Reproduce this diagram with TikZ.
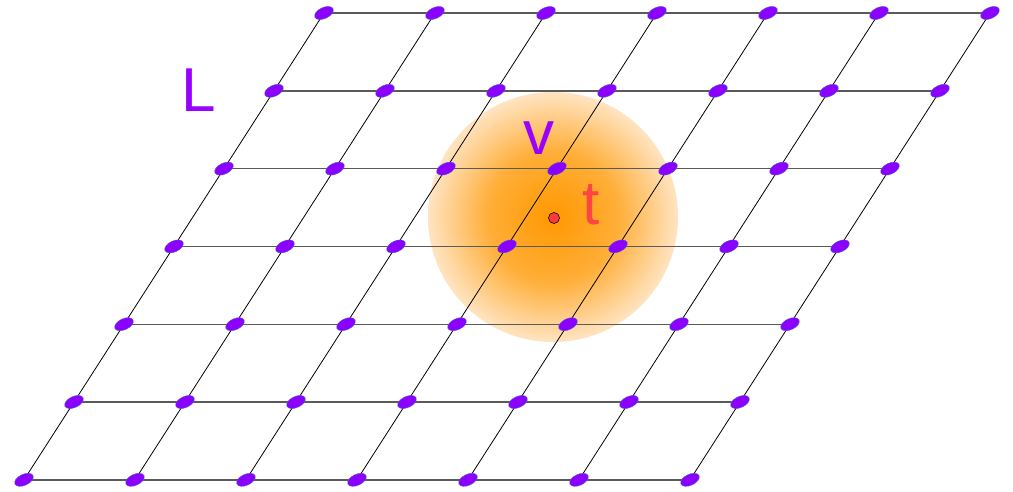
\documentclass[tikz,border=0pt]{standalone}
\usepackage{fontspec}
\setmainfont{Liberation Sans}
\usetikzlibrary{shapes.geometric}
\definecolor{nodepurple}{HTML}{8C00FF}
\definecolor{nodeedge}{HTML}{4A5FD0}
\definecolor{labpurple}{HTML}{9A00FF}
\definecolor{labred}{HTML}{FF4444}
\definecolor{hline}{HTML}{5A5A5A}
\definecolor{glowin}{HTML}{FF9800}
\definecolor{glowmid}{HTML}{FFAE38}
\definecolor{glowout}{HTML}{FFE4C2}
\definecolor{dotred}{HTML}{FF3B3B}
\pgfdeclareradialshading{glow}{\pgfpoint{0bp}{0bp}}{color(0bp)=(glowin); color(13bp)=(glowmid); color(25bp)=(glowout); color(50bp)=(glowout)}
\pgfdeclarelayer{bg}
\pgfsetlayers{bg,main}
\tikzset{
  vert/.style={ellipse, rotate=25, minimum width=20pt, minimum height=11pt, inner sep=0pt, fill=nodepurple, draw=nodeedge, line width=0.4pt},
  hedge/.style={draw=hline, line width=1.4pt},
  sedge/.style={draw=black, line width=0.8pt},
  lab/.style={font=\fontsize{62}{62}\selectfont, inner sep=0pt},
}
\begin{document}
\begin{tikzpicture}[x=1pt,y=-1pt]
\useasboundingbox (0,0) rectangle (1013,491);
\begin{pgfonlayer}{bg}
\fill[white] (0,0) rectangle (1013,491);
\shade[shading=glow] (553,217) circle (125);
\end{pgfonlayer}
% nodes
\foreach \r in {0,...,6}{
  \foreach \c in {0,...,6}{
    \pgfmathsetmacro{\xx}{324-50*\r+111*\c}
    \pgfmathsetmacro{\yy}{13+77.8*\r}
    \node[vert] (n-\r-\c) at (\xx,\yy) {};
  }
}
\begin{pgfonlayer}{bg}
\foreach \r in {0,...,6}{
  \foreach \c [count=\d] in {0,...,5}{
    \draw[hedge] (n-\r-\c.center) -- (n-\r-\d.center);
  }
}
\foreach \r [count=\s] in {0,...,5}{
  \foreach \c in {0,...,6}{
    \draw[sedge] (n-\r-\c.center) -- (n-\s-\c.center);
  }
}
\end{pgfonlayer}
\node[circle, fill=dotred, draw=black, line width=0.6pt, minimum size=11pt, inner sep=0pt] (t0) at (554,218) {};
\node[lab, text=labpurple] (L) at (199,90) {L};
\node[lab, text=labpurple] (v) at (539,138) {v};
\node[lab, text=labred] (t) at (591,205) {t};
\end{tikzpicture}
\end{document}
